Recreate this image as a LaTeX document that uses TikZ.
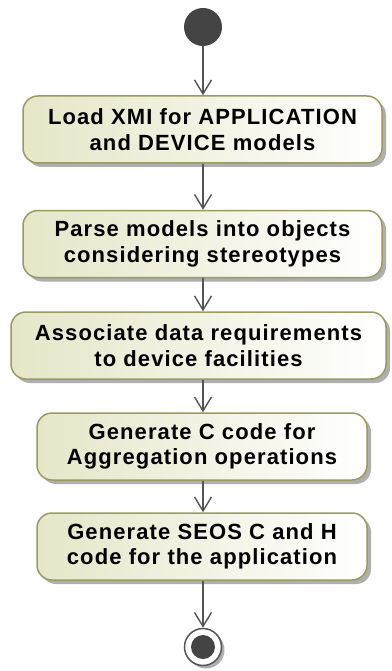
\documentclass[tikz,border=0pt]{standalone}
\usepackage{fontspec}
\newfontfamily\actfont[LetterSpace=5]{Liberation Sans}
\usetikzlibrary{arrows.meta,shadows}
\definecolor{actfill}{RGB}{230,230,200}
\definecolor{actline}{RGB}{155,155,95}
\definecolor{flow}{RGB}{85,85,85}
\definecolor{dot}{RGB}{68,68,68}
\definecolor{shade}{RGB}{175,175,175}

\tikzset{
  action/.style={draw=actline, line width=1.5pt, rounded corners=15pt,
    left color=actfill, right color=white, minimum height=67pt,
    align=center, inner sep=0pt,
    font=\actfont\bfseries\fontsize{22}{25.5}\selectfont,
    drop shadow={shadow xshift=4pt, shadow yshift=-4pt, fill=shade, opacity=1}},
  flowline/.style={draw=flow, line width=1.4pt,
    -{Straight Barb[length=14pt,width=17pt,line width=1.4pt]}}
}

\begin{document}
\begin{tikzpicture}[x=1pt,y=1pt]
	\useasboundingbox (0,0) rectangle (391,-671);
	\coordinate (axis) at (203,0);

	% debut
	\node[circle, fill=dot, minimum size=38pt, inner sep=0pt] (start) at (203,-27) {};

	% actions
	\node[action, minimum width=359pt] (load) at (202.5,-129.5) {Load XMI for APPLICATION\\and DEVICE models};
	\node[action, minimum width=359pt] (parse) at (202.5,-244) {Parse models into objects\\considering stereotypes};
	\node[action, minimum width=375pt] (assoc) at (198.5,-345.5) {Associate data requirements\\to device facilities};
	\node[action, minimum width=330pt] (aggr) at (202,-446.5) {Generate C code for\\Aggregation operations};
	\node[action, minimum width=330pt] (seos) at (202,-546.5) {Generate SEOS C and H\\code for the application};

	% fin
	\node[circle, draw=flow, line width=1.5pt, fill=white, minimum size=37pt, inner sep=0pt,
		drop shadow={shadow xshift=3pt, shadow yshift=-3pt, fill=shade, opacity=1}] (stop) at (203,-647) {};
	\node[circle, fill=dot, minimum size=24pt, inner sep=0pt] (stopdot) at (stop) {};

	% fleches
	\foreach \a/\b in {start/load, load/parse, parse/assoc, assoc/aggr, aggr/seos, seos/stop}
		\draw[flowline] (axis |- \a.south) -- (axis |- \b.north);
\end{tikzpicture}
\end{document}
